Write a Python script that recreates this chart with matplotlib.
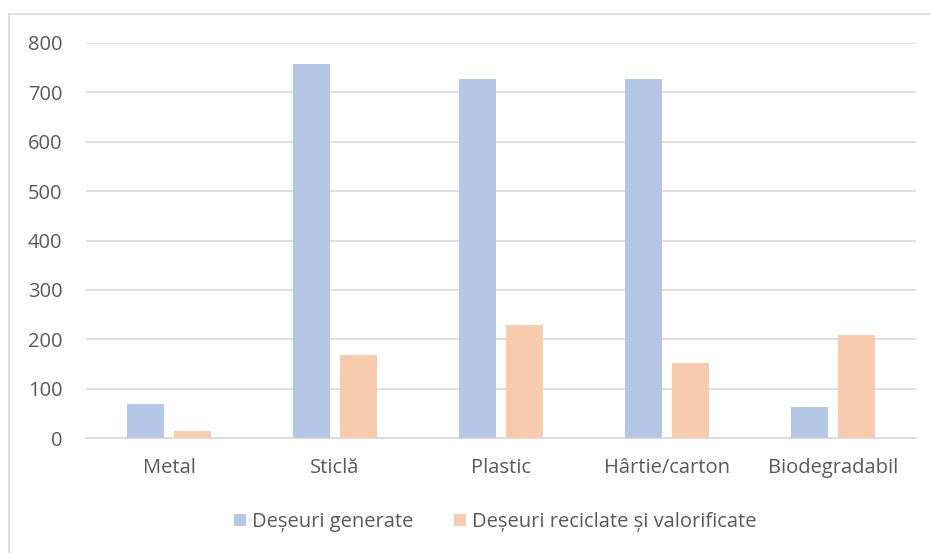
import matplotlib
matplotlib.use("Agg")
import matplotlib.pyplot as plt
import numpy as np
from matplotlib.lines import Line2D

categories = ["Metal", "Sticlă", "Plastic", "Hârtie/carton", "Biodegradabil"]
generated = [69, 757, 726, 727, 63]
recycled = [15, 169, 229, 152, 208]
series_names = ["Deșeuri generate", "Deșeuri reciclate și valorificate"]
yticks = [0, 100, 200, 300, 400, 500, 600, 700, 800]

W, H = 931, 553
plt.rcParams['font.family'] = ['Open Sans', 'DejaVu Sans']
fig = plt.figure(figsize=(W/100, H/100), dpi=100)
ax = fig.add_axes([86/W, (H-438.3)/H, (916-86)/W, (438.3-42.7)/H])

x = np.arange(len(categories))
bw = 0.223
off = 0.1416
c1 = "#b4c7e7"
c2 = "#f8cbad"
ax.bar(x - off, generated, bw, color=c1, zorder=3, label=series_names[0])
ax.bar(x + off, recycled, bw, color=c2, zorder=3, label=series_names[1])

ax.set_xlim(-0.5, len(categories) - 0.5)
ax.set_ylim(0, 800)
ax.set_yticks(yticks)
ax.set_xticks(x)
ax.set_xticklabels(categories)
ax.grid(axis='y', color='#d9d9d9', linewidth=1.2, zorder=0)
for s in ['top', 'right', 'left']:
    ax.spines[s].set_visible(False)
ax.spines['bottom'].set_color('#d9d9d9')
ax.spines['bottom'].set_linewidth(1.2)
ax.tick_params(axis='both', length=0, labelsize=14.5, colors='#595959')
ax.tick_params(axis='y', pad=17)
ax.tick_params(axis='x', pad=14)

leg = fig.legend(loc='center', bbox_to_anchor=(495/W, (H-522)/H), ncol=2,
                 frameon=False, fontsize=14.5, handlelength=0.6, handleheight=0.6,
                 handletextpad=0.3, columnspacing=2.0)
for t in leg.get_texts():
    t.set_color('#595959')

# chart border
fig.add_artist(Line2D([9/W, 1], [1-13.5/H, 1-13.5/H], transform=fig.transFigure, color='#d9d9d9', lw=1.2))
fig.add_artist(Line2D([9/W, 9/W], [0, 1-13.5/H], transform=fig.transFigure, color='#d9d9d9', lw=1.2))

fig.savefig("out.png", dpi=100)
